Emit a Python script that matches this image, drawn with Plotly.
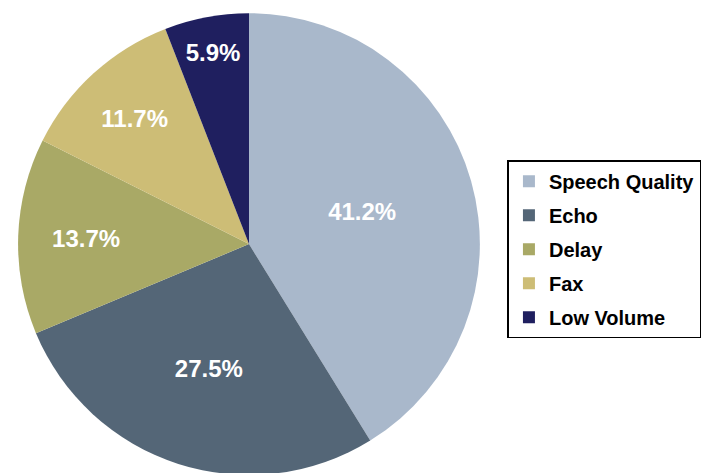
import plotly.graph_objects as go

categories = ["Speech Quality", "Echo", "Delay", "Fax", "Low Volume"]
values = [41.2, 27.5, 13.7, 11.7, 5.9]
colors = ["#A9B8CB", "#546677", "#A9A966", "#CDBD76", "#1F1F5F"]

FONT = "Arial, Liberation Sans, sans-serif"

fig = go.Figure()
fig.add_trace(go.Pie(
    labels=categories, values=values, sort=False, direction="clockwise", rotation=0,
    marker=dict(colors=colors, line=dict(width=0)),
    texttemplate="%{value:.1f}%", textposition="inside", insidetextorientation="horizontal",
    textfont=dict(family=FONT, size=24, color="white", weight="bold"),
    domain=dict(x=[0.014, 0.661], y=[0.0127, 0.989]),
    showlegend=False, hoverinfo="label+percent",
))
for c, col in zip(categories, colors):
    fig.add_trace(go.Scatter(
        x=[None], y=[None], mode="markers", name=c, legendgroup=c,
        marker=dict(symbol="square", size=12, color=col),
        showlegend=True,
    ))

fig.update_layout(
    width=714, height=473,
    margin=dict(l=0, r=0, t=0, b=0),
    paper_bgcolor="white", plot_bgcolor="white",
    xaxis=dict(visible=False), yaxis=dict(visible=False),
    legend=dict(
        x=0.6995, y=0.678, xanchor="left", yanchor="top",
        bordercolor="black", borderwidth=1.5,
        font=dict(family=FONT, size=20, color="black", weight="bold"),
        tracegroupgap=5, itemclick=False,
    ),
)
fig.write_html("out.html")
